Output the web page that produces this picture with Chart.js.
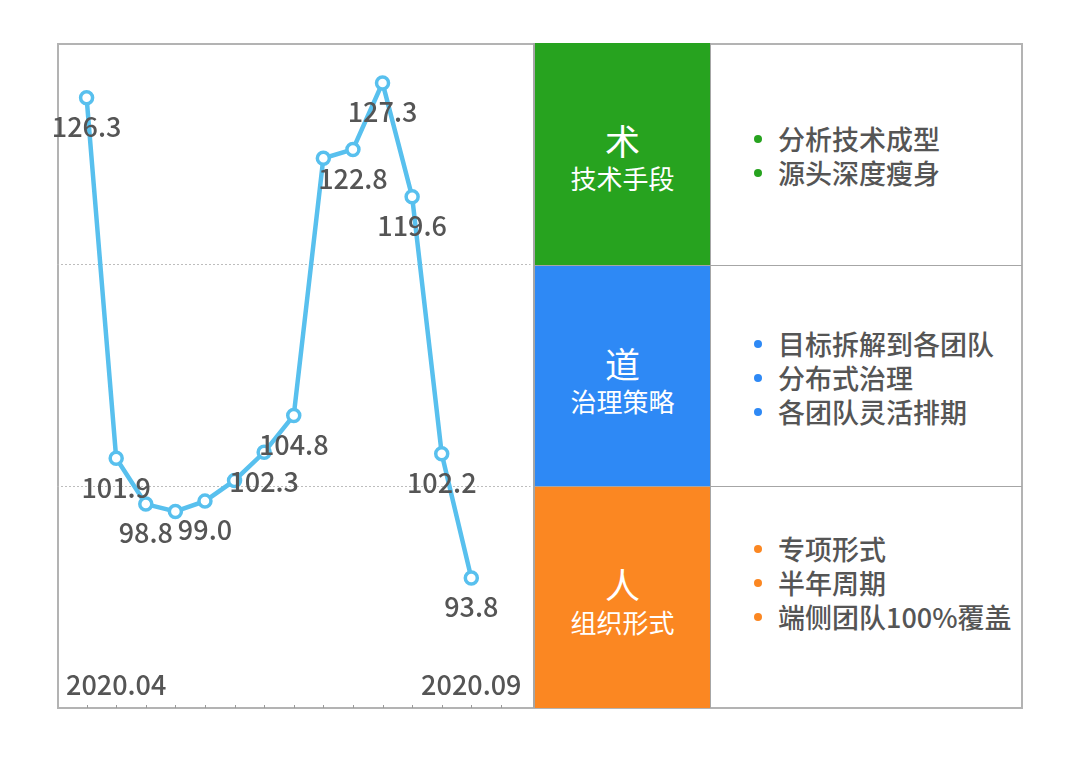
<!DOCTYPE html>
<html>
<head>
<meta charset="utf-8">
<script src="https://cdn.jsdelivr.net/npm/chart.js@4.4.0/dist/chart.umd.min.js"></script>
<style>
  body { margin: 0; background: #fff; font-family: "Noto Sans CJK SC", sans-serif; }
  #stage { position: relative; width: 1080px; height: 771px; }
  #frame { position: absolute; left: 57px; top: 43px; width: 966px; height: 666px; border: 2px solid #b3b3b3; box-sizing: border-box; }
  #table { position: absolute; left: 533px; top: 43px; width: 489px; height: 665px; }
  .row { position: absolute; left: 0; width: 489px; display: flex; box-sizing: border-box; }
  .row + .row { border-top: 1px solid #a6a6a6; }
  .head { width: 178px; height: 100%; color: #fff; text-align: center; box-sizing: border-box; border-left: 2px solid #a6a6a6; border-right: 1.5px solid #a6a6a6; padding-top: 76px; }
  .big { font-size: 35px; line-height: 42px; }
  .sub { font-size: 26px; line-height: 34px; }
  .items { flex: 1; display: flex; flex-direction: column; justify-content: center; padding-top: 4px; }
  .item { position: relative; padding-left: 67px; font-size: 27px; line-height: 34px; color: #555; height: 34px; font-weight: 500; }
  .dot { position: absolute; left: 43px; top: 13px; width: 8px; height: 8px; border-radius: 50%; }
  #chartBox { position: absolute; left: 0; top: 0; width: 540px; height: 771px; }
</style>
</head>
<body>
<div id="stage">
  <div id="frame"></div>
  <div id="table"></div>
  <div id="chartBox"><canvas id="grafico"></canvas></div>
</div>
<script>
// dados do gráfico
const valores = [126.3, 101.9, 98.8, 98.3, 99.0, 100.4, 102.3, 104.8, 122.2, 122.8, 127.3, 119.6, 102.2, 93.8];
const rotuloVisivel = [true, true, true, false, true, false, true, true, false, true, true, true, true, true];
const periodos = ['', '2020.04', '', '', '', '', '', '', '', '', '', '', '', '2020.09'];

// tabela
const titulos = ['术', '道', '人'];
const subtitulos = ['技术手段', '治理策略', '组织形式'];
const itens = [
  ['分析技术成型', '源头深度瘦身'],
  ['目标拆解到各团队', '分布式治理', '各团队灵活排期'],
  ['专项形式', '半年周期', '端侧团队100%覆盖', '']
];

const coresLinhas = ['#27a31f', '#2e89f5', '#fb8722'];
const corLinha = '#58c0ee';
const corTexto = '#555555';

// monta a tabela
const alturas = [222, 221, 222];
let topo = 0;
const tabela = document.getElementById('table');
titulos.forEach((t, i) => {
  const row = document.createElement('div');
  row.className = 'row';
  row.style.top = topo + 'px';
  row.style.height = alturas[i] + 'px';
  topo += alturas[i];

  const head = document.createElement('div');
  head.className = 'head';
  head.style.background = coresLinhas[i];
  head.innerHTML = `<div class="big">${t}</div><div class="sub">${subtitulos[i]}</div>`;
  row.appendChild(head);

  const box = document.createElement('div');
  box.className = 'items';
  itens[i].forEach((txt) => {
    const it = document.createElement('div');
    it.className = 'item';
    if (txt) {
      it.innerHTML = `<span class="dot" style="background:${coresLinhas[i]}"></span>${txt}`;
    }
    box.appendChild(it);
  });
  row.appendChild(box);
  tabela.appendChild(row);
});

// rótulos dos pontos e períodos
const rotulosPlugin = {
  id: 'rotulos',
  afterDatasetsDraw(chart) {
    const ctx = chart.ctx;
    const meta = chart.getDatasetMeta(0);
    const x = chart.scales.x;
    const area = chart.chartArea;
    ctx.save();
    ctx.fillStyle = corTexto;
    ctx.font = '500 27px "Noto Sans CJK SC", sans-serif';
    ctx.textAlign = 'center';
    ctx.textBaseline = 'middle';
    meta.data.forEach((pt, i) => {
      if (!rotuloVisivel[i]) return;
      ctx.fillText(valores[i].toFixed(1), pt.x, pt.y + 29);
    });
    periodos.forEach((p, i) => {
      if (!p) return;
      ctx.fillText(p, x.getPixelForValue(i + 1), area.bottom - 23);
    });
    // marcas do eixo x (para dentro)
    ctx.strokeStyle = '#9a9a9a';
    ctx.lineWidth = 1;
    x.ticks.forEach((t) => {
      if (t.value <= x.min || t.value >= x.max) return;
      const px = Math.round(x.getPixelForValue(t.value)) + 0.5;
      ctx.beginPath();
      ctx.moveTo(px, area.bottom - 3);
      ctx.lineTo(px, area.bottom);
      ctx.stroke();
    });
    ctx.restore();
  }
};

function criarGrafico() {
  const ctx = document.getElementById('grafico').getContext('2d');
  new Chart(ctx, {
    type: 'line',
    data: {
      datasets: [{
        data: valores.map((v, i) => ({ x: i + 1, y: v })),
        borderColor: corLinha,
        borderWidth: 4.5,
        tension: 0,
        pointRadius: 6,
        pointBorderWidth: 3.5,
        pointBackgroundColor: '#fff',
        pointBorderColor: corLinha
      }]
    },
    options: {
      responsive: true,
      maintainAspectRatio: false,
      animation: false,
      layout: { padding: { left: 57, top: 43, right: 7, bottom: 63 } },
      plugins: { legend: { display: false }, tooltip: { enabled: false } },
      scales: {
        x: {
          type: 'linear',
          min: 0,
          max: 16,
          ticks: { display: false, stepSize: 1 },
          grid: { display: false, drawTicks: false },
          border: { display: false }
        },
        y: {
          min: 85,
          max: 130,
          ticks: { display: false, stepSize: 15 },
          grid: {
            drawTicks: false,
            lineWidth: 1,
            color: (c) => (c.tick && (c.tick.value === 100 || c.tick.value === 115)) ? '#bdbdbd' : 'rgba(0,0,0,0)'
          },
          border: { display: false, dash: [2, 2] }
        }
      }
    },
    plugins: [rotulosPlugin]
  });
}

criarGrafico();
</script>
</body>
</html>
